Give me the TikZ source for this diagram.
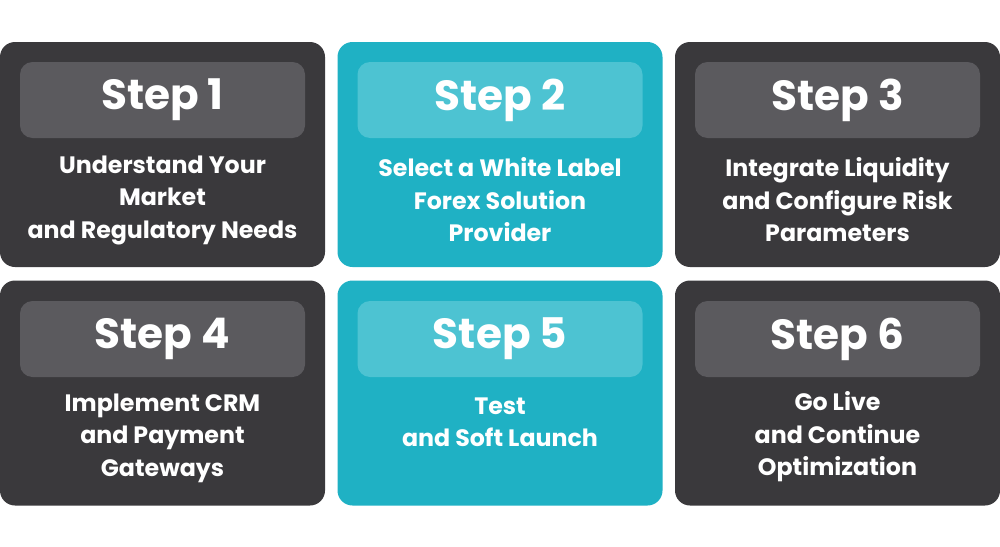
\documentclass[tikz,border=0pt]{standalone}
\usepackage{fontspec}
\setmainfont{Poppins}
\usetikzlibrary{positioning}
\definecolor{darkcard}{HTML}{3A393C}
\definecolor{darkhead}{HTML}{5B5A5E}
\definecolor{tealcard}{HTML}{1FB1C4}
\definecolor{tealhead}{HTML}{4DC3D2}
\tikzset{
  card/.style={rectangle, rounded corners=0.3cm, minimum width=6.5cm, minimum height=4.5cm, draw=none},
  head/.style={rectangle, rounded corners=0.25cm, minimum width=5.7cm, minimum height=1.52cm, text=white, font=\fontsize{24}{28}\selectfont\bfseries},
  body/.style={text=white, align=center, font=\fontsize{13.5}{18.5}\selectfont\bfseries}
}
\begin{document}
\begin{tikzpicture}
  \useasboundingbox (0,0) rectangle (20,-10.94);
  % Cards
  \node (card1) [card, fill=darkcard] at (3.25,-3.09) {};
  \node (card2) [card, fill=tealcard] at (10,-3.09) {};
  \node (card3) [card, fill=darkcard] at (16.75,-3.09) {};
  \node (card4) [card, fill=darkcard] at (3.25,-7.86) {};
  \node (card5) [card, fill=tealcard] at (10,-7.86) {};
  \node (card6) [card, fill=darkcard] at (16.75,-7.86) {};
  % Headers
  \node (head1) [head, fill=darkhead] at (3.25,-2.0) {Step 1};
  \node (head2) [head, fill=tealhead] at (10,-2.0) {Step 2};
  \node (head3) [head, fill=darkhead] at (16.75,-2.0) {Step 3};
  \node (head4) [head, fill=darkhead] at (3.25,-6.78) {Step 4};
  \node (head5) [head, fill=tealhead] at (10,-6.78) {Step 5};
  \node (head6) [head, fill=darkhead] at (16.75,-6.78) {Step 6};
  % Texts
  \node (text1) [body] at (3.25,-4.0) {Understand Your\\Market\\and Regulatory Needs};
  \node (text2) [body] at (10,-4.0) {Select a White Label\\Forex Solution\\Provider};
  \node (text3) [body] at (16.75,-4.0) {Integrate Liquidity\\and Configure Risk\\Parameters};
  \node (text4) [body] at (3.25,-8.76) {Implement CRM\\and Payment\\Gateways};
  \node (text5) [body] at (10,-8.45) {Test\\and Soft Launch};
  \node (text6) [body] at (16.75,-8.74) {Go Live\\and Continue\\Optimization};
\end{tikzpicture}
\end{document}
